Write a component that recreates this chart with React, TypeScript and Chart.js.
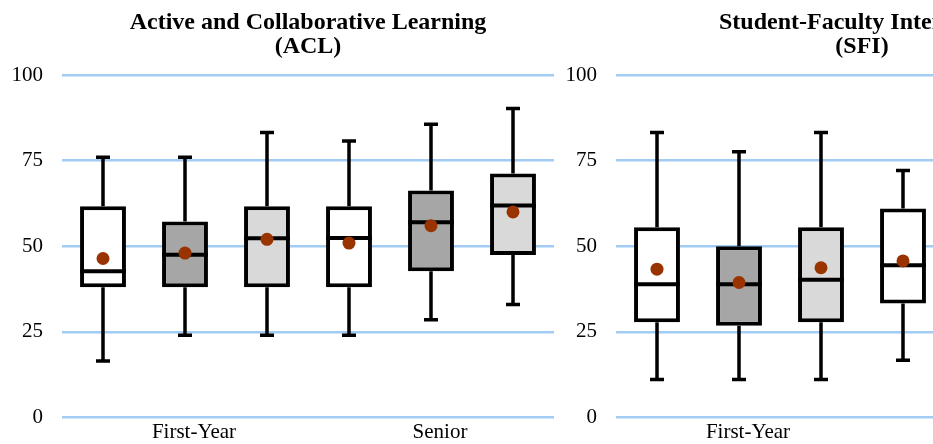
import React, { useEffect, useRef } from "react";
import { Chart, registerables } from "chart.js";

Chart.register(...registerables);

// Category groups and box series (order within each group: white, dark, light)
const groups = ["First-Year", "Senior"];
const seriesNames = ["Institution", "Comparison A", "Comparison B"];
const boxFills = ["#ffffff", "#a6a6a6", "#d9d9d9"];
const yTicks = [0, 25, 50, 75, 100];

// ACL panel: six boxes [FY-white, FY-dark, FY-light, SR-white, SR-dark, SR-light]
const aclLow = [16.5, 24, 24, 24, 28.5, 33];
const aclQ1 = [38, 38, 38, 38, 42.7, 47.4];
const aclMedian = [42.7, 47.5, 52.3, 52.4, 57, 61.9];
const aclQ3 = [61.7, 57.2, 61.7, 61.7, 66.3, 71.2];
const aclHigh = [76, 76, 83.2, 80.7, 85.6, 90.2];
const aclMean = [46.4, 48, 52, 50.9, 56, 60];

// SFI panel: only the First-Year boxes and the first Senior box are visible
const sfiLow = [11.1, 11.1, 11.1, 16.7, null, null];
const sfiQ1 = [27.8, 26.8, 27.8, 33.3, null, null];
const sfiMedian = [38.9, 38.9, 40.2, 44.4, null, null];
const sfiQ3 = [55.5, 50, 55.5, 61, null, null];
const sfiHigh = [83.2, 77.6, 83.2, 72.1, null, null];
const sfiMean = [43.3, 39.4, 43.7, 45.7, null, null];

const SERIF = "'Liberation Serif', 'Times New Roman', Times, serif";

type Stats = {
  low: (number | null)[];
  q1: (number | null)[];
  median: (number | null)[];
  q3: (number | null)[];
  high: (number | null)[];
  mean: (number | null)[];
};

const LINE_W = 3.5;
const BOX_W = 4;

const boxPlugin = {
  id: "boxStats",
  beforeDatasetsDraw(chart: any, _args: any, opts: any) {
    const s: Stats = opts.stats;
    if (!s) return;
    const y = chart.scales.y;
    const ctx = chart.ctx;
    ctx.save();
    ctx.strokeStyle = "#000";
    ctx.lineWidth = LINE_W;
    chart.data.datasets.forEach((_d: any, k: number) => {
      const meta = chart.getDatasetMeta(k);
      meta.data.forEach((el: any, g: number) => {
        const i = g * 3 + k;
        if (s.low[i] == null) return;
        const x = el.x;
        const pLow = y.getPixelForValue(s.low[i]);
        const pHigh = y.getPixelForValue(s.high[i]);
        const pQ1 = y.getPixelForValue(s.q1[i]);
        const pQ3 = y.getPixelForValue(s.q3[i]);
        const cap = 7;
        ctx.beginPath();
        ctx.moveTo(x, pQ3);
        ctx.lineTo(x, pHigh);
        ctx.moveTo(x - cap, pHigh);
        ctx.lineTo(x + cap, pHigh);
        ctx.moveTo(x, pQ1);
        ctx.lineTo(x, pLow);
        ctx.moveTo(x - cap, pLow);
        ctx.lineTo(x + cap, pLow);
        ctx.stroke();
      });
    });
    ctx.restore();
  },
  afterDatasetsDraw(chart: any, _args: any, opts: any) {
    const s: Stats = opts.stats;
    if (!s) return;
    const y = chart.scales.y;
    const ctx = chart.ctx;
    ctx.save();
    chart.data.datasets.forEach((_d: any, k: number) => {
      const meta = chart.getDatasetMeta(k);
      meta.data.forEach((el: any, g: number) => {
        const i = g * 3 + k;
        if (s.median[i] == null) return;
        const x = el.x;
        const half = el.width / 2;
        const pMed = y.getPixelForValue(s.median[i]);
        ctx.strokeStyle = "#000";
        ctx.lineWidth = BOX_W;
        ctx.beginPath();
        ctx.moveTo(x - half, pMed);
        ctx.lineTo(x + half, pMed);
        ctx.stroke();
        const pMean = y.getPixelForValue(s.mean[i]);
        ctx.fillStyle = "#993300";
        ctx.beginPath();
        ctx.arc(x, pMean, 6.5, 0, Math.PI * 2);
        ctx.fill();
      });
    });
    ctx.restore();
  },
};

function buildDatasets(s: Stats) {
  return [0, 1, 2].map((k) => ({
    label: seriesNames[k],
    data: groups.map((_g, g) => {
      const i = g * 3 + k;
      return s.q1[i] == null ? null : [s.q1[i], s.q3[i]];
    }),
    backgroundColor: boxFills[k],
    borderColor: "#000",
    borderWidth: BOX_W,
    borderSkipped: false,
    barPercentage: 0.56,
    categoryPercentage: 1,
  }));
}

const CANVAS_W = 554;
const CANVAS_H = 449;

function BoxPanel({ title, stats, left }: { title: string[]; stats: Stats; left: number }) {
  const ref = useRef<HTMLCanvasElement | null>(null);
  useEffect(() => {
    if (!ref.current) return;
    const chart = new Chart(ref.current, {
      type: "bar",
      data: { labels: groups, datasets: buildDatasets(stats) as any },
      plugins: [boxPlugin],
      options: {
        animation: false,
        responsive: false,
        maintainAspectRatio: false,
        devicePixelRatio: 1,
        layout: { autoPadding: false, padding: { left: 0, right: 0, top: 0, bottom: 0 } },
        plugins: {
          legend: { display: false },
          tooltip: { enabled: false },
          title: {
            display: true,
            text: title,
            color: "#000",
            fullSize: false,
            font: { family: SERIF, size: 24, weight: "bold", lineHeight: 1.0 },
            padding: { top: 11, bottom: 16 },
          },
          boxStats: { stats },
        } as any,
        scales: {
          x: {
            type: "category",
            grid: { display: false, drawTicks: false },
            border: { display: false },
            ticks: {
              color: "#000",
              font: { family: SERIF, size: 21 },
              padding: 2,
              labelOffset: 9,
              maxRotation: 0,
            },
            afterFit: (sc: any) => {
              sc.height = 28;
            },
          },
          y: {
            min: 0,
            max: 100,
            afterBuildTicks: (sc: any) => {
              sc.ticks = yTicks.map((v) => ({ value: v }));
            },
            grid: { color: "#a3ccf4", lineWidth: 2.5, drawTicks: false },
            border: { display: false },
            ticks: {
              color: "#000",
              font: { family: SERIF, size: 21 },
              padding: 19,
            },
            afterFit: (sc: any) => {
              sc.width = 62;
            },
          },
        },
      } as any,
    });
    return () => chart.destroy();
  }, []);
  return (
    <canvas
      ref={ref}
      width={CANVAS_W}
      height={CANVAS_H}
      style={{ position: "absolute", left, top: 0, width: CANVAS_W, height: CANVAS_H }}
    />
  );
}

const aclStats: Stats = { low: aclLow, q1: aclQ1, median: aclMedian, q3: aclQ3, high: aclHigh, mean: aclMean };
const sfiStats: Stats = { low: sfiLow, q1: sfiQ1, median: sfiMedian, q3: sfiQ3, high: sfiHigh, mean: sfiMean };

export default function App() {
  return (
    <div
      style={{
        position: "fixed",
        left: 0,
        top: 0,
        width: 933,
        height: 444,
        overflow: "hidden",
        background: "#fff",
      }}
    >
      <BoxPanel title={["Active and Collaborative Learning", "(ACL)"]} stats={aclStats} left={0} />
      <BoxPanel title={["Student-Faculty Interaction", "(SFI)"]} stats={sfiStats} left={554} />
    </div>
  );
}
